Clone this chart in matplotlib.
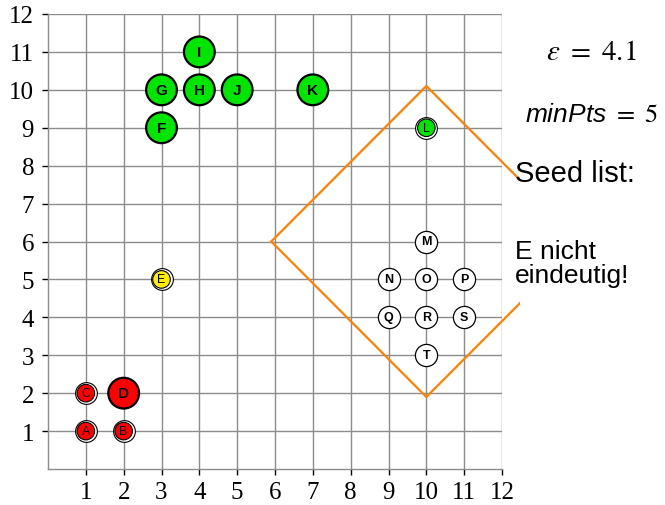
"""DBSCAN Schritt: Punkte, eps-Umgebung (Manhattan) um M und Seed list."""

import matplotlib

matplotlib.use("Agg")
import matplotlib.pyplot as plt
from matplotlib.patches import Polygon, Rectangle

EPS = 4.1
MIN_PTS = 5
QUERY_X, QUERY_Y = 10, 6

# Kernpunkte (dicker Rand)
CORE_LABELS = ["D", "F", "G", "H", "I", "J", "K"]
CORE_X = [2, 3, 3, 4, 4, 5, 7]
CORE_Y = [2, 9, 10, 10, 11, 10, 10]
CORE_COLORS = ["#ff0000", "#00e600", "#00e600", "#00e600", "#00e600", "#00e600", "#00e600"]

# Randpunkte (doppelter Ring)
BORDER_LABELS = ["A", "B", "C", "E", "L"]
BORDER_X = [1, 2, 1, 3, 10]
BORDER_Y = [1, 1, 2, 5, 9]
BORDER_COLORS = ["#ff0000", "#ff0000", "#ff0000", "#ffee00", "#00e600"]

# noch nicht besucht
OPEN_LABELS = ["M", "N", "O", "P", "Q", "R", "S", "T"]
OPEN_X = [10, 9, 10, 11, 9, 10, 11, 10]
OPEN_Y = [6, 5, 5, 5, 4, 4, 4, 3]

TICKS = list(range(1, 13))

W, H = 665, 506

plt.rcParams["mathtext.fontset"] = "custom"
plt.rcParams["mathtext.rm"] = "STIXGeneral"
plt.rcParams["mathtext.it"] = "Liberation Sans:italic"

fig = plt.figure(figsize=(W / 100, H / 100), dpi=100)
ax = fig.add_axes([48 / W, 36 / H, 454 / W, 455 / H])
ax.set_xlim(0, 12)
ax.set_ylim(0, 12)

grid_color = "#8c8c8c"
ax.set_xticks(TICKS)
ax.set_yticks(TICKS)
ax.grid(True, color=grid_color, linewidth=1.0, zorder=0)
ax.set_axisbelow(True)
for side in ("left", "bottom", "top", "right"):
    ax.spines[side].set_color(grid_color)
    ax.spines[side].set_linewidth(1.0)
ax.spines["top"].set_visible(False)
ax.spines["right"].set_visible(False)
ax.tick_params(direction="out", length=4, width=1, color="black", labelsize=18)
ax.tick_params(axis="x", pad=5)
ax.tick_params(axis="y", pad=6)
for lab in ax.get_xticklabels() + ax.get_yticklabels():
    lab.set_fontfamily("Liberation Serif")

# eps-Umgebung (Manhattan) um M, rechts bei ~12.5 abgeschnitten
diamond = Polygon(
    [
        (QUERY_X, QUERY_Y + EPS),
        (QUERY_X + EPS, QUERY_Y),
        (QUERY_X, QUERY_Y - EPS),
        (QUERY_X - EPS, QUERY_Y),
    ],
    closed=True,
    fill=False,
    edgecolor="#ff8000",
    linewidth=1.6,
    zorder=2,
    clip_on=True,
)
ax.add_patch(diamond)
clip_rect = Rectangle((-1, -1), 13.48, 14.5, transform=ax.transData)
diamond.set_clip_path(clip_rect)

# Kernpunkte
ax.scatter(CORE_X, CORE_Y, s=490, c=CORE_COLORS, edgecolors="black", linewidths=1.6, zorder=3)
for lab, x, y in zip(CORE_LABELS, CORE_X, CORE_Y):
    ax.text(x, y, lab, ha="center", va="center", fontsize=11, fontweight="bold",
            family="Liberation Sans", zorder=4)

# Randpunkte: doppelter Ring
ax.scatter(BORDER_X, BORDER_Y, s=245, c="white", edgecolors="black", linewidths=0.8, zorder=3)
ax.scatter(BORDER_X, BORDER_Y, s=160, c=BORDER_COLORS, edgecolors="black", linewidths=0.8, zorder=3)
for lab, x, y in zip(BORDER_LABELS, BORDER_X, BORDER_Y):
    ax.text(x, y, lab, ha="center", va="center", fontsize=9,
            family="Liberation Sans", zorder=4)

# offene Punkte
ax.scatter(OPEN_X, OPEN_Y, s=255, c="white", edgecolors="black", linewidths=0.9, zorder=3)
for lab, x, y in zip(OPEN_LABELS, OPEN_X, OPEN_Y):
    ax.text(x, y, lab, ha="center", va="center", fontsize=9, fontweight="bold",
            family="Liberation Sans", zorder=4)

# Texte rechts
fig.text(591 / W, 1 - 52 / H, r"$\varepsilon\ =\ %s$" % EPS, ha="center", va="center",
         fontsize=21, math_fontfamily="stix")
fig.text(592 / W, 1 - 115 / H, r"$minPts\;=\;%d$" % MIN_PTS, ha="center", va="center",
         fontsize=19)
fig.text(515 / W, 1 - 182 / H, "Seed list:", ha="left", va="baseline",
         fontsize=21, family="Liberation Sans")
fig.text(515 / W, 1 - 283 / H, "E nicht\neindeutig!", ha="left", va="baseline",
         fontsize=19, family="Liberation Sans", linespacing=1.0)

fig.savefig("out.png", dpi=100)
